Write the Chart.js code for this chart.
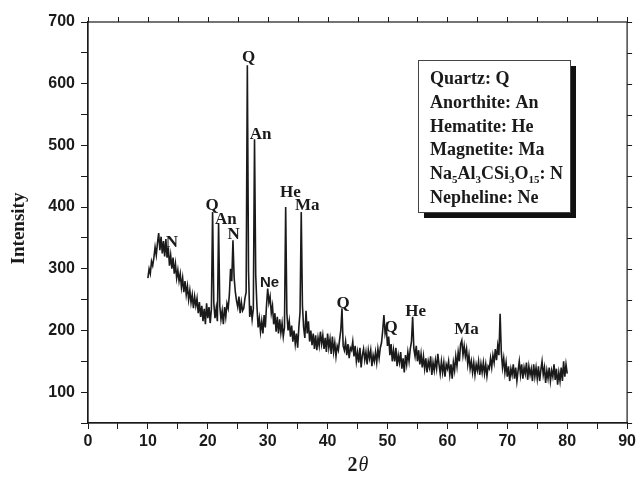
<!DOCTYPE html>
<html>
<head>
<meta charset="utf-8">
<script src="https://cdn.jsdelivr.net/npm/chart.js@4"></script>
<style>
    html, body { margin: 0; padding: 0; background: #fff; }
</style>
</head>
<body>
<canvas id="xrdChart" width="639" height="483"></canvas>
<script>
// scan: 10 -> 80 deg, 0.2 deg step
const scanStart = 10;
const scanStep = 0.2;

const intensity = [
    285, 300, 292, 312, 305,  318, 335, 322, 342, 358,
    330, 352, 325, 345, 320,  348, 318, 335, 305, 322,
    300, 318, 292, 308, 285,  298, 280, 292, 270, 285,
    262, 280, 258, 272, 250,  265, 245, 258, 236, 255,
    240, 252, 228, 246, 222,  240, 215, 235, 210, 244,
    220, 238, 212, 235, 392,  245, 220, 236, 215, 374,
    240, 218, 232, 210, 238,  222, 244, 236, 258, 300,
    280, 346, 285, 262, 248,  238, 255, 228, 246, 232,
    236, 252, 262, 630, 295,  222, 240, 218, 235, 510,
    290, 240, 205, 220, 198,  215, 195, 225, 205, 240,
    268, 245, 255, 228, 240,  210, 228, 198, 222, 195,
    218, 196, 212, 190, 205,  400, 228, 200, 215, 190,
    208, 182, 200, 178, 195,  172, 205, 230, 392, 240,
    205, 188, 232, 195, 215,  182, 200, 176, 195, 170,
    192, 168, 188, 175, 198,  178, 192, 170, 188, 165,
    195, 172, 186, 162, 190,  165, 180, 158, 175, 168,
    185, 200, 236, 175, 168,  182, 160, 178, 155, 172,
    168, 182, 158, 175, 150,  165, 148, 172, 140, 160,
    170, 152, 165, 145, 168,  155, 168, 142, 160, 150,
    165, 148, 170, 155, 172,  180, 200, 225, 195, 205,
    175, 190, 160, 178, 150,  168, 150, 172, 142, 160,
    148, 165, 138, 155, 132,  160, 145, 165, 150, 170,
    182, 222, 170, 158, 175,  150, 168, 145, 162, 140,
    158, 138, 155, 132, 150,  140, 158, 128, 148, 135,
    152, 138, 162, 145, 130,  150, 132, 148, 125, 145,
    138, 150, 128, 145, 122,  148, 135, 158, 142, 165,
    150, 178, 184, 160, 175,  158, 170, 145, 160, 138,
    150, 132, 148, 128, 145,  135, 150, 128, 146, 132,
    148, 130, 145, 126, 142,  138, 155, 140, 160, 148,
    170, 152, 175, 160, 227,  165, 140, 155, 132, 148,
    125, 142, 118, 138, 128,  145, 122, 140, 118, 135,
    150, 128, 145, 122, 140,  130, 148, 120, 142, 128,
    138, 118, 145, 125, 140,  122, 142, 118, 136, 150,
    128, 140, 115, 135, 122,  140, 118, 135, 125, 145,
    120, 138, 112, 132, 118,  140, 118, 150, 125, 145,
    130
];

const twoTheta = intensity.map((_, i) => +(scanStart + i * scanStep).toFixed(1));

// phase markers (text, 2theta, intensity where the label sits)
const peakText  = ["N", "Q", "An", "N", "Q", "An", "Ne", "He", "Ma", "Q", "Q", "He", "Ma"];
const peakTheta = [14.0, 20.7, 23.0, 24.3, 26.8, 28.8, 30.3, 33.8, 36.6, 42.6, 50.6, 54.7, 63.2];
const peakLevel = [343, 403, 379, 355, 643, 518, 277, 423, 402, 243, 204, 230, 201];

const legendLines = [
    [["Quartz: Q"]],
    [["Anorthite: An"]],
    [["Hematite: He"]],
    [["Magnetite: Ma"]],
    [["Na"], ["5", "sub"], ["Al"], ["3", "sub"], ["CSi"], ["3", "sub"], ["O"], ["15", "sub"], [": N"]],
    [["Nepheline: Ne"]],
];

const INK = "#1a1a1a";
const SANS = "'Liberation Sans', Arial, sans-serif";
const SERIF = "'Liberation Serif', 'Times New Roman', serif";

const framePlugin = {
    id: "frame",
    afterDraw(chart) {
        const { ctx, chartArea: a, scales } = chart;
        ctx.save();
        ctx.strokeStyle = INK;
        ctx.lineWidth = 1.2;
        ctx.strokeRect(a.left, a.top, a.right - a.left, a.bottom - a.top);
        ctx.lineWidth = 1;
        ctx.beginPath();
        scales.x.ticks.forEach((t) => {
            const px = Math.round(scales.x.getPixelForValue(t.value)) + 0.5;
            ctx.moveTo(px, a.top);
            ctx.lineTo(px, a.top - 5);
        });
        scales.y.ticks.forEach((t) => {
            const py = Math.round(scales.y.getPixelForValue(t.value)) + 0.5;
            ctx.moveTo(a.right, py);
            ctx.lineTo(a.right + 5, py);
        });
        ctx.stroke();

        // axis titles
        ctx.fillStyle = INK;
        ctx.textAlign = "center";
        ctx.textBaseline = "middle";
        ctx.save();
        ctx.translate(19, (a.top + a.bottom) / 2 + 6);
        ctx.rotate(-Math.PI / 2);
        ctx.font = "bold 19px " + SERIF;
        ctx.fillText("Intensity", 0, 0);
        ctx.restore();

        const cx = (a.left + a.right) / 2;
        ctx.font = "bold 20px " + SERIF;
        ctx.textAlign = "right";
        ctx.fillText("2", cx, 466);
        ctx.font = "italic 20px " + SERIF;
        ctx.textAlign = "left";
        ctx.fillText("\u03B8", cx + 1, 466);
        ctx.restore();
    },
};

const peakLabelPlugin = {
    id: "peakLabels",
    afterDatasetsDraw(chart) {
        const { ctx, scales } = chart;
        ctx.save();
        ctx.fillStyle = INK;
        ctx.textAlign = "center";
        ctx.textBaseline = "middle";
        peakText.forEach((txt, i) => {
            ctx.font = txt === "Ne" ? "bold 15px " + SANS : "bold 17px " + SERIF;
            ctx.fillText(txt, scales.x.getPixelForValue(peakTheta[i]), scales.y.getPixelForValue(peakLevel[i]));
        });
        ctx.restore();
    },
};

const legendBoxPlugin = {
    id: "phaseLegend",
    afterDraw(chart) {
        const { ctx } = chart;
        const bx = 418, by = 60, bw = 152, bh = 152;
        ctx.save();
        ctx.fillStyle = "#111";
        ctx.fillRect(bx + 6, by + 6, bw, bh);
        ctx.fillStyle = "#fff";
        ctx.fillRect(bx, by, bw, bh);
        ctx.strokeStyle = "#444";
        ctx.lineWidth = 1;
        ctx.strokeRect(bx + 0.5, by + 0.5, bw, bh);

        ctx.fillStyle = INK;
        ctx.textBaseline = "alphabetic";
        ctx.textAlign = "left";
        legendLines.forEach((parts, i) => {
            let x = bx + 12;
            const base = by + 24 + i * 23.8;
            parts.forEach(([txt, kind]) => {
                if (kind === "sub") {
                    ctx.font = "bold 11px " + SERIF;
                    ctx.fillText(txt, x, base + 4);
                } else {
                    ctx.font = "bold 18px " + SERIF;
                    ctx.fillText(txt, x, base);
                }
                x += ctx.measureText(txt).width;
            });
        });
        ctx.restore();
    },
};

new Chart(document.getElementById("xrdChart"), {
    type: "line",

    data: {
        datasets: [
            {
                label: "XRD",
                data: twoTheta.map((t, i) => ({ x: t, y: intensity[i] })),
                borderColor: INK,
                borderWidth: 1.6,
                pointRadius: 0,
                tension: 0,
                fill: false,
            },
        ],
    },

    options: {
        responsive: false,
        animation: false,
        devicePixelRatio: 1,
        layout: { padding: { top: 22, right: 10, left: 0, bottom: 0 } },

        plugins: {
            legend: { display: false },
            tooltip: { enabled: false },
        },

        scales: {
            x: {
                type: "linear",
                min: 0,
                max: 90,
                afterFit: (s) => { s.height = 60; },
                border: { color: INK, width: 1.2 },
                grid: { drawOnChartArea: false, tickLength: 6, color: INK },
                ticks: {
                    stepSize: 5,
                    autoSkip: false,
                    maxRotation: 0,
                    padding: 3,
                    color: INK,
                    font: { family: SANS, weight: "bold", size: 16 },
                    callback: (v) => (v % 10 === 0 ? v : ""),
                },
            },

            y: {
                min: 50,
                max: 700,
                afterFit: (s) => { s.width = 88; },
                border: { color: INK, width: 1.2 },
                grid: { drawOnChartArea: false, tickLength: 7, color: INK },
                ticks: {
                    stepSize: 50,
                    autoSkip: false,
                    padding: 6,
                    color: INK,
                    font: { family: SANS, weight: "bold", size: 16 },
                    callback: (v) => (v % 100 === 0 ? v : ""),
                },
            },
        },
    },

    plugins: [framePlugin, peakLabelPlugin, legendBoxPlugin],
});
</script>
</body>
</html>
